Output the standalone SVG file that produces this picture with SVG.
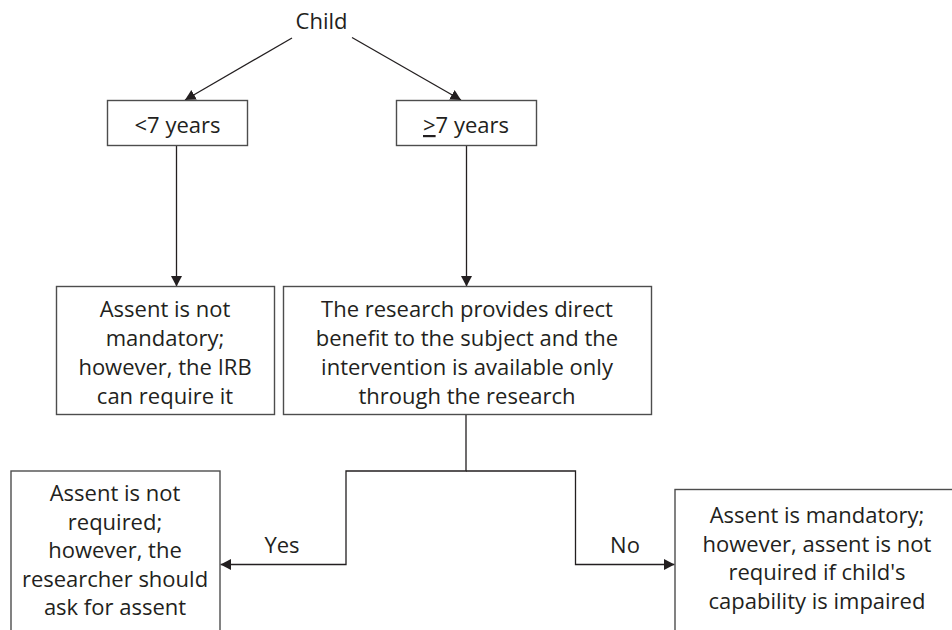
<svg xmlns="http://www.w3.org/2000/svg" width="952" height="630" viewBox="0 0 952 630">
  <defs>
    <marker id="arrow" markerUnits="userSpaceOnUse" markerWidth="11" markerHeight="11" refX="10.5" refY="5.5" orient="auto">
      <path d="M0,0 L10.5,5.5 L0,11 z" fill="#231f20"/>
    </marker>
    <style>
      .box { fill: #ffffff; stroke: #4d4d4d; stroke-width: 1.4; }
      .conn { fill: none; stroke: #231f20; stroke-width: 1.3; }
      text { font-family: "Open Sans", "Noto Sans", "DejaVu Sans", sans-serif; font-size: 22px; fill: #231f20; text-anchor: middle; }
    </style>
  </defs>
  <rect width="952" height="630" fill="#ffffff"/>

  <g id="connectors">
    <line class="conn" x1="292" y1="38" x2="185" y2="100" marker-end="url(#arrow)"/>
    <line class="conn" x1="352" y1="37.5" x2="461" y2="100" marker-end="url(#arrow)"/>
    <line class="conn" x1="176.5" y1="145.5" x2="176.5" y2="286.5" marker-end="url(#arrow)"/>
    <line class="conn" x1="466.5" y1="145.5" x2="466.5" y2="286.5" marker-end="url(#arrow)"/>
    <polyline class="conn" points="466,414.5 466,471 346,471 346,564.5 220.5,564.5" marker-end="url(#arrow)"/>
    <polyline class="conn" points="466,471 575.5,471 575.5,564.5 674.5,564.5" marker-end="url(#arrow)"/>
    <text x="282" y="553">Yes</text>
    <text x="625" y="553">No</text>
  </g>

  <g id="child">
    <text x="321.5" y="29">Child</text>
  </g>

  <g id="under7">
    <rect class="box" x="107.5" y="100.5" width="140" height="45"/>
    <text x="177.5" y="133">&lt;7 years</text>
  </g>

  <g id="over7">
    <rect class="box" x="396.5" y="100.5" width="140" height="45"/>
    <text x="466" y="133"><tspan text-decoration="underline">&gt;</tspan>7 years</text>
  </g>

  <g id="assent-not-mandatory">
    <rect class="box" x="56.5" y="286.5" width="218" height="128"/>
    <text x="165" y="317">Assent is not</text>
    <text x="165" y="346">mandatory;</text>
    <text x="165" y="375">however, the IRB</text>
    <text x="165" y="404">can require it</text>
  </g>

  <g id="direct-benefit">
    <rect class="box" x="283.5" y="286.5" width="368" height="128"/>
    <text x="467" y="317">The research provides direct</text>
    <text x="467" y="346">benefit to the subject and the</text>
    <text x="467" y="375">intervention is available only</text>
    <text x="467" y="404">through the research</text>
  </g>

  <g id="assent-not-required">
    <rect class="box" x="11" y="471" width="209" height="180"/>
    <text x="115" y="501">Assent is not</text>
    <text x="115" y="529.5">required;</text>
    <text x="115" y="558">however, the</text>
    <text x="115" y="586.5">researcher should</text>
    <text x="115" y="615">ask for assent</text>
  </g>

  <g id="assent-mandatory">
    <rect class="box" x="675" y="489.5" width="300" height="180"/>
    <text x="817" y="523">Assent is mandatory;</text>
    <text x="817" y="551.5">however, assent is not</text>
    <text x="817" y="580">required if child's</text>
    <text x="817" y="608.5">capability is impaired</text>
  </g>
</svg>
